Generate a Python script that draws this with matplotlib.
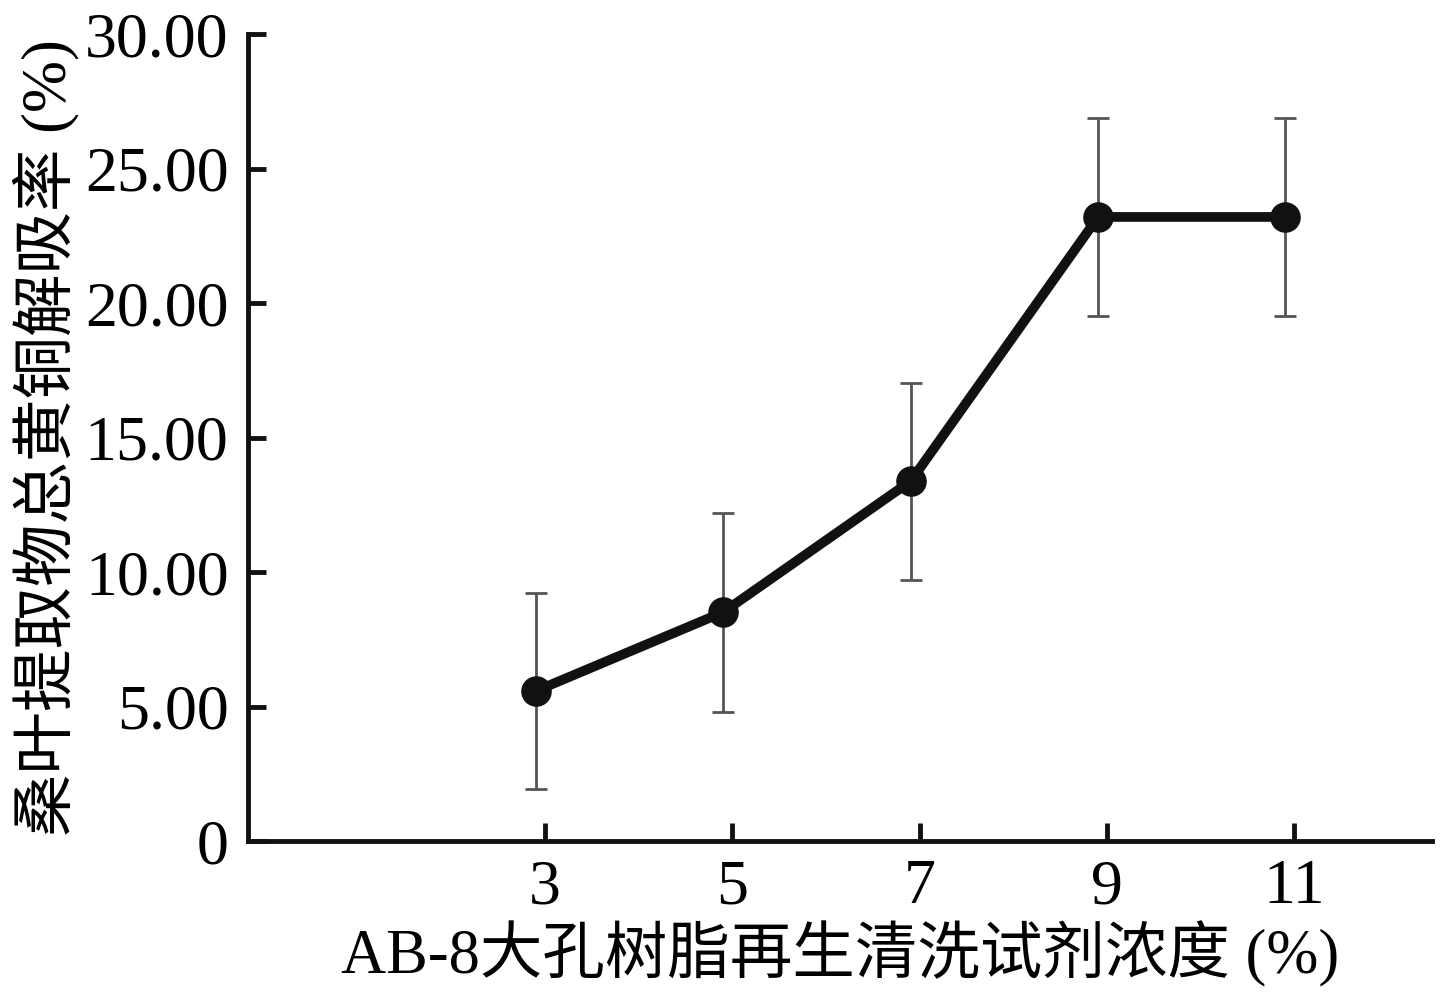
import numpy as np
import matplotlib
matplotlib.use('Agg')
import matplotlib.pyplot as plt
from matplotlib.transforms import ScaledTranslation

# data
concentration = [3, 5, 7, 9, 11]
absorption = [5.58, 8.51, 13.38, 23.20, 23.20]
error = [3.64, 3.70, 3.66, 3.68, 3.68]
y_ticks = [0, 5, 10, 15, 20, 25, 30]
y_tick_labels = ['0', '5.00', '10.00', '15.00', '20.00', '25.00', '30.00']

plt.rcParams['font.family'] = ['Liberation Serif', 'Noto Sans CJK SC', 'DejaVu Sans']
plt.rcParams['font.size'] = 46

fig = plt.figure(figsize=(14.54, 9.98), dpi=100)
ax = fig.add_axes([0.1706, 0.1573, 0.8144, 0.8086])

# points sit a little left of the tick marks in the original
shift = ax.transData + ScaledTranslation(-9 / 100, 0, fig.dpi_scale_trans)

ax.errorbar(concentration, absorption, yerr=error, fmt='none', ecolor='#555555',
            elinewidth=2, capsize=8, capthick=2, transform=shift, zorder=2)
ax.plot(concentration, absorption, color='#111111', lw=7, marker='o', ms=21,
        transform=shift, zorder=3)

ax.set_xlim(-0.17, 12.47)
ax.set_ylim(0, 30)
ax.set_xticks(concentration)
ax.set_yticks(y_ticks)
ax.set_yticklabels(y_tick_labels)

for side in ['top', 'right']:
    ax.spines[side].set_visible(False)
for side in ['left', 'bottom']:
    ax.spines[side].set_linewidth(3.5)
    ax.spines[side].set_color('#111111')
ax.tick_params(direction='in', length=13, width=3.5, color='#111111', labelsize=46)
ax.tick_params(axis='x', pad=13)
ax.tick_params(axis='y', pad=14)

ax.set_xlabel('AB-8大孔树脂再生清洗试剂浓度 (%)', fontsize=45, labelpad=3)
ax.set_ylabel('桑叶提取物总黄铜解吸率 (%)', fontsize=45, labelpad=4)

fig.savefig('out.png', dpi=100)
